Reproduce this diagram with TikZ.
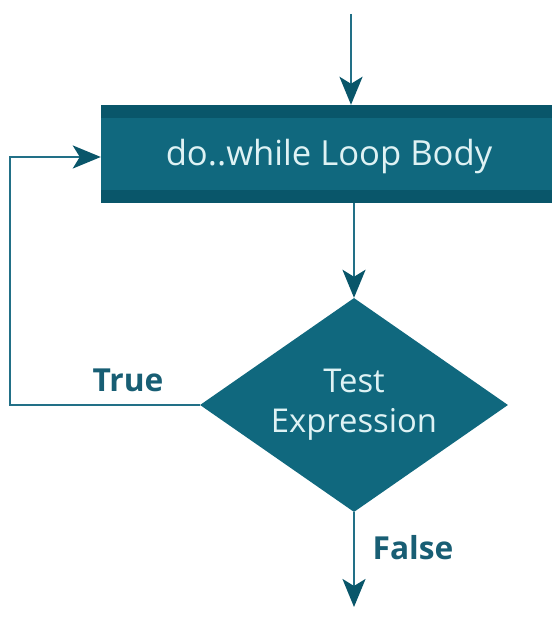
\documentclass[tikz,border=0pt]{standalone}
\usepackage{fontspec}
\setmainfont{Open Sans}
\usepackage{tikz}
\usetikzlibrary{arrows.meta,shapes.geometric,positioning}
\definecolor{lpteal}{RGB}{16,104,126}
\definecolor{lpdark}{RGB}{9,86,106}
\definecolor{lpline}{RGB}{34,112,135}
\definecolor{lptext}{RGB}{222,242,244}
\definecolor{lplabel}{RGB}{24,94,116}
\tikzset{
  arrow/.style={line width=2.6pt, lpline, -{Stealth[length=28pt,width=23pt,inset=7pt]}, arrows={[fill=lpdark,color=lpdark]}},
  bodybox/.style={rectangle, draw=none, fill=lpdark, minimum width=451pt, minimum height=98pt, inner sep=0pt},
  testbox/.style={diamond, aspect=1.44, fill=lpteal, minimum width=308pt, minimum height=214pt, inner sep=0pt, text=lptext, align=center, font=\fontsize{32.8}{40}\selectfont},
  flowlabel/.style={text=lplabel, font=\fontsize{31.7}{34}\selectfont\bfseries}
}

\begin{document}
\begin{tikzpicture}[x=1pt, y=1pt]
\useasboundingbox (0,0) rectangle (552,620);

% Loop body box with darker bands
\node[bodybox] (body) at (326.5,466) {};
\fill[lpteal] ([yshift=-13pt]body.north west) rectangle ([yshift=13pt]body.south east);
\node[text=lptext, font=\fontsize{34.6}{38}\selectfont] (bodytext) at (329,463) {do..while Loop Body};

% Decision
\node[testbox] (test) at (354,215) {Test\\Expression};

% Free ends
\coordinate (start) at (351,606);
\coordinate (stop) at (354,13);
\coordinate (back) at (10,463);

% Arrows
\draw[arrow] (start) -- (start |- body.north);
\draw[arrow] (test.north |- body.south) -- (test.north);
\draw[arrow] (test.south) -- (stop);
\draw[arrow] (test.west) -| (back) -- (back -| body.west);

% Labels
\node[flowlabel] (truelbl) at (128,240) {True};
\node[flowlabel] (falselbl) at (413,72) {False};
\end{tikzpicture}
\end{document}
